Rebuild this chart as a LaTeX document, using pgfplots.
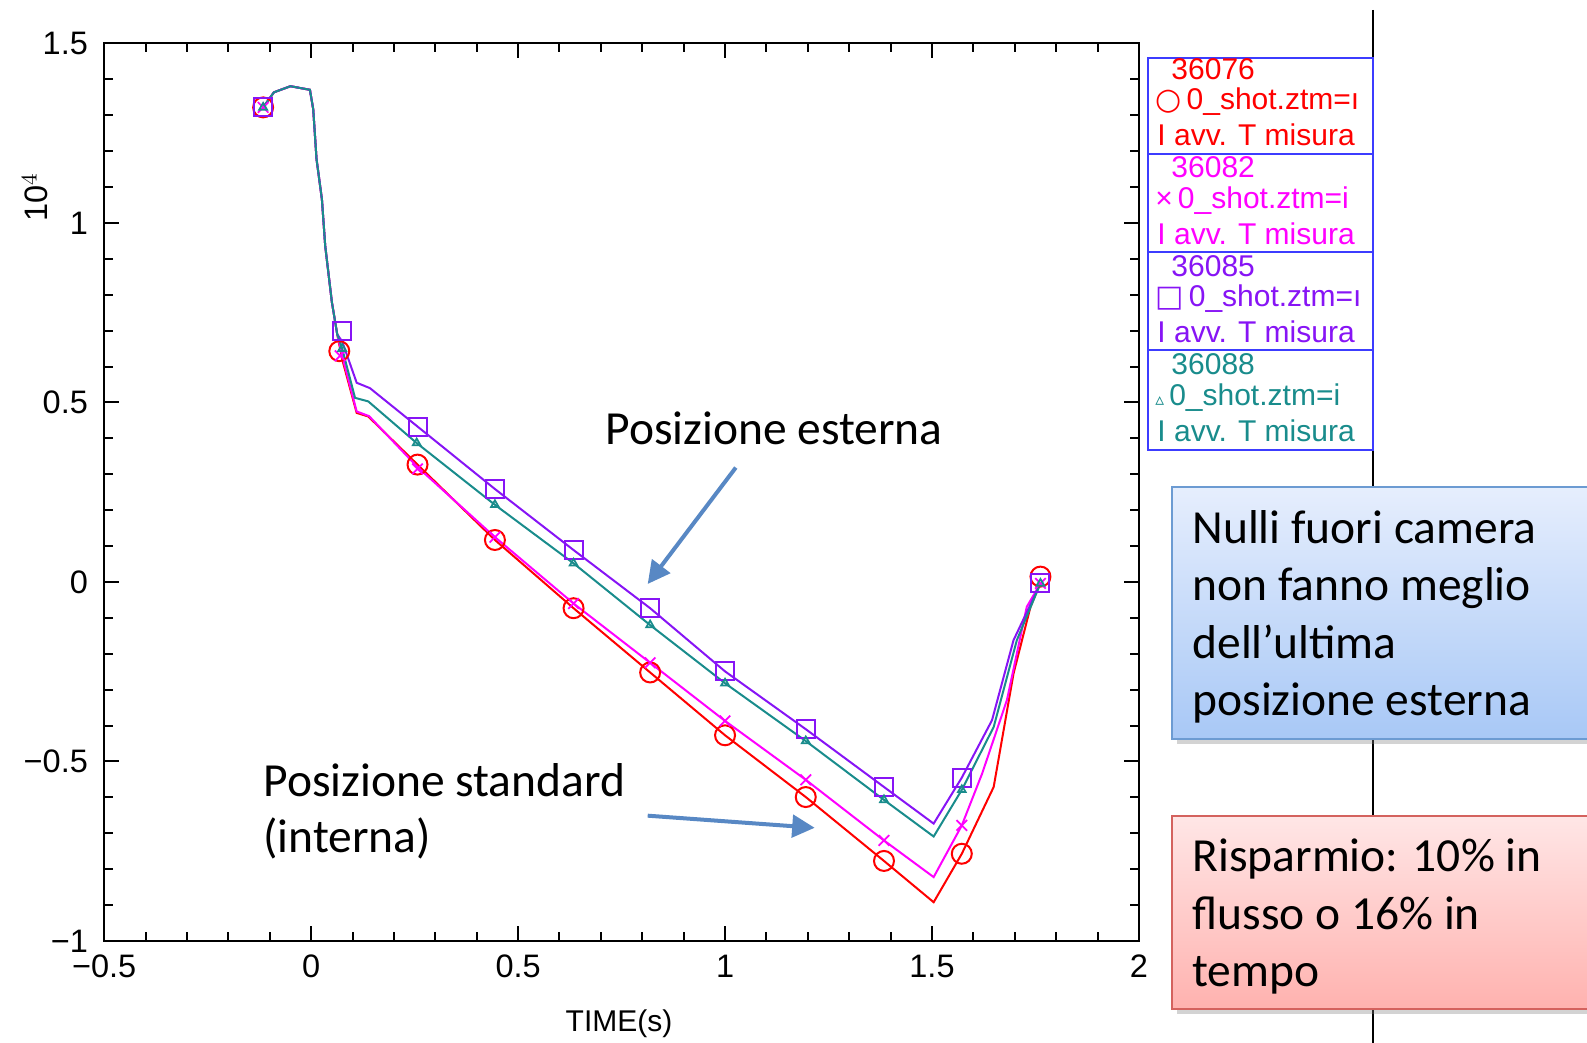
\documentclass[border=0pt]{standalone}
\usepackage{pgfplots}
\pgfplotsset{compat=1.18}
\usepackage{fontspec}
\setmainfont{Liberation Sans}
\newfontfamily\calibri{Carlito}
\newfontfamily\dejavu{DejaVu Sans}
\usetikzlibrary{arrows.meta,shadows}
\definecolor{cred}{RGB}{255,0,0}
\definecolor{cmag}{RGB}{255,0,255}
\definecolor{cpur}{RGB}{135,20,245}
\definecolor{cteal}{RGB}{25,140,140}
\definecolor{clegbox}{RGB}{60,60,255}
\definecolor{carrow}{RGB}{88,136,196}
\begin{document}
\begin{tikzpicture}
\useasboundingbox (0,0) rectangle (634.8pt,417.2pt);
\clip (0,0) rectangle (634.8pt,417.2pt);
\begin{axis}[
  scale only axis,
  width=413.9pt, height=359pt,
  at={(41.68pt,40.8pt)}, anchor=south west,
  xmin=-0.5, xmax=2, ymin=-1, ymax=1.5,
  xtick={-0.5,0,0.5,1,1.5,2},
  xticklabels={−0.5,0,0.5,1,1.5,2},
  ytick={-1,-0.5,0,0.5,1,1.5},
  yticklabels={−1,−0.5,0,0.5,1,1.5},
  minor x tick num=4, minor y tick num=4,
  tick align=inside,
  major tick length=6pt, minor tick length=3.5pt,
  axis line style={line width=0.8pt},
  every tick/.style={black,line width=0.8pt},
  tick label style={font=\fontsize{13}{15}\selectfont},
  xticklabel style={yshift=-2pt},
  yticklabel style={xshift=-3pt},
  clip=false,
]
% 36076 red
\addplot[cred, line width=0.8pt] coordinates {
(-0.116,1.322) (-0.09,1.364) (-0.05,1.381) (-0.003,1.371) (0.005,1.317) (0.013,1.178) (0.026,1.066) (0.034,0.936) (0.05,0.78) (0.063,0.69) (0.075,0.62) (0.11,0.471) (0.138,0.461) (0.257,0.327) (0.444,0.117) (0.634,-0.073) (0.819,-0.252) (1.0,-0.427) (1.195,-0.599) (1.384,-0.777) (1.504,-0.892) (1.572,-0.757) (1.649,-0.571) (1.697,-0.255) (1.738,-0.069) (1.762,0.0)};
\addplot[cred, only marks, mark=o, mark size=4pt, mark options={line width=0.8pt}] coordinates {
(-0.116,1.322) (0.068,0.643) (0.257,0.327) (0.444,0.117) (0.634,-0.073) (0.819,-0.252) (1.0,-0.427) (1.195,-0.599) (1.384,-0.777) (1.572,-0.757) (1.762,0.015)};
% 36082 magenta
\addplot[cmag, line width=0.8pt] coordinates {
(-0.116,1.322) (-0.09,1.364) (-0.05,1.381) (-0.003,1.371) (0.005,1.317) (0.013,1.178) (0.026,1.066) (0.034,0.936) (0.05,0.78) (0.063,0.69) (0.075,0.63) (0.11,0.475) (0.14,0.462) (0.257,0.32) (0.444,0.125) (0.634,-0.06) (0.819,-0.225) (1.0,-0.387) (1.195,-0.551) (1.384,-0.72) (1.504,-0.822) (1.572,-0.678) (1.621,-0.534) (1.681,-0.329) (1.729,-0.069) (1.762,-0.004)};
\addplot[cmag, only marks, mark=x, mark size=3pt, mark options={line width=0.7pt}] coordinates {
(-0.116,1.322) (0.07,0.63) (0.257,0.315) (0.444,0.125) (0.634,-0.06) (0.819,-0.225) (1.0,-0.387) (1.195,-0.551) (1.384,-0.72) (1.572,-0.678) (1.762,-0.004)};
% 36085 purple
\addplot[cpur, line width=0.8pt] coordinates {
(-0.116,1.322) (-0.09,1.364) (-0.05,1.381) (-0.003,1.371) (0.005,1.317) (0.013,1.178) (0.026,1.066) (0.034,0.936) (0.05,0.78) (0.063,0.69) (0.075,0.67) (0.11,0.555) (0.142,0.54) (0.257,0.433) (0.444,0.259) (0.634,0.089) (0.819,-0.073) (1.0,-0.249) (1.195,-0.41) (1.384,-0.571) (1.504,-0.673) (1.572,-0.545) (1.645,-0.385) (1.697,-0.162) (1.762,-0.004)};
\addplot[cpur, only marks, mark=square, mark size=3.6pt, mark options={line width=0.8pt}] coordinates {
(-0.116,1.322) (0.075,0.70) (0.257,0.433) (0.444,0.259) (0.634,0.089) (0.819,-0.073) (1.0,-0.249) (1.195,-0.41) (1.384,-0.571) (1.572,-0.545) (1.762,-0.004)};
% 36088 teal
\addplot[cteal, line width=0.8pt] coordinates {
(-0.116,1.322) (-0.09,1.364) (-0.05,1.381) (-0.003,1.371) (0.005,1.317) (0.013,1.178) (0.026,1.066) (0.034,0.936) (0.05,0.78) (0.063,0.69) (0.075,0.65) (0.106,0.513) (0.138,0.503) (0.255,0.387) (0.444,0.215) (0.634,0.052) (0.819,-0.12) (1.0,-0.282) (1.195,-0.443) (1.384,-0.607) (1.504,-0.709) (1.572,-0.579) (1.649,-0.404) (1.705,-0.162) (1.762,-0.004)};
\addplot[cteal, only marks, mark=triangle, mark size=1.8pt, mark options={line width=0.7pt}] coordinates {
(-0.116,1.322) (0.075,0.65) (0.255,0.387) (0.444,0.215) (0.634,0.052) (0.819,-0.12) (1.0,-0.282) (1.195,-0.443) (1.384,-0.607) (1.572,-0.579) (1.762,-0.004)};
\end{axis}
\begin{scope}[x=0.4pt,y=-0.4pt,shift={(0pt,417.2pt)}]
% axis labels
\node[font=\fontsize{12}{14}\selectfont] at (619,1024) {TIME(s)};
\node[font=\fontsize{13}{15}\selectfont, rotate=90] at (35,197) {10$^{4}$};
% right vertical line
\draw[black, line width=0.8pt] (1373,10) -- (1373,1050);
% legend
\fill[white] (1148,57.7) rectangle (1373,450);
\draw[clegbox, line width=0.8pt] (1148,57.7) rectangle (1373,450);
\draw[clegbox, line width=0.8pt] (1148,153.8) -- (1373,153.8);
\draw[clegbox, line width=0.8pt] (1148,252) -- (1373,252);
\draw[clegbox, line width=0.8pt] (1148,350) -- (1373,350);
\begin{scope}[every node/.style={anchor=west, inner sep=0pt, font=\fontsize{12}{14}\selectfont}]
\node[cred] at (1171,69) {36076};
\node[cred] at (1155,102) {{\dejavu ○}\,0\_shot.ztm=ı};
\node[cred] at (1157,135) {I avv. T misura};
\node[cmag] at (1171,167.5) {36082};
\node[cmag] at (1155,200.5) {×\,0\_shot.ztm=i};
\node[cmag] at (1157,233.5) {I avv. T misura};
\node[cpur] at (1171,266) {36085};
\node[cpur] at (1155,299) {{\dejavu □}\,0\_shot.ztm=ı};
\node[cpur] at (1157,332) {I avv. T misura};
\node[cteal] at (1171,364.5) {36088};
\node[cteal] at (1155,397.5) {{\dejavu\scriptsize ▵}\,0\_shot.ztm=i};
\node[cteal] at (1157,430.5) {I avv. T misura};
\end{scope}
% annotation boxes
\draw[draw={rgb,255:red,108;green,155;blue,210}, line width=0.8pt,
  top color={rgb,255:red,230;green,238;blue,253}, bottom color={rgb,255:red,168;green,200;blue,246},
  drop shadow={opacity=0.35, shadow xshift=2pt, shadow yshift=-2pt}]
  (1172,487) rectangle (1650,739);
\draw[draw={rgb,255:red,212;green,98;blue,94}, line width=0.8pt,
  top color={rgb,255:red,255;green,230;blue,230}, bottom color={rgb,255:red,255;green,178;blue,175},
  drop shadow={opacity=0.35, shadow xshift=2pt, shadow yshift=-2pt}]
  (1172,816) rectangle (1650,1009);
\begin{scope}[every node/.style={anchor=base west, inner sep=0pt, font=\calibri\fontsize{19}{23}\selectfont}]
\node at (1192,543.5) {Nulli fuori camera};
\node at (1192,601) {non fanno meglio};
\node at (1192,658.5) {dell’ultima};
\node at (1192,715.5) {posizione esterna};
\node at (1192,872) {Risparmio: 10\% in};
\node at (1192,930) {flusso o 16\% in};
\node at (1192,987) {tempo};
\node at (605,445) {Posizione esterna};
\node at (263,796.5) {Posizione standard};
\node at (263,853) {(interna)};
\end{scope}
% arrows
\draw[carrow, line width=1.6pt, -{Triangle[length=9pt,width=9pt]}] (735.8,467.6) -- (647.7,584);
\draw[carrow, line width=1.6pt, -{Triangle[length=9pt,width=9pt]}] (647.7,815.7) -- (814.7,827.8);
\end{scope}
\end{tikzpicture}
\end{document}
